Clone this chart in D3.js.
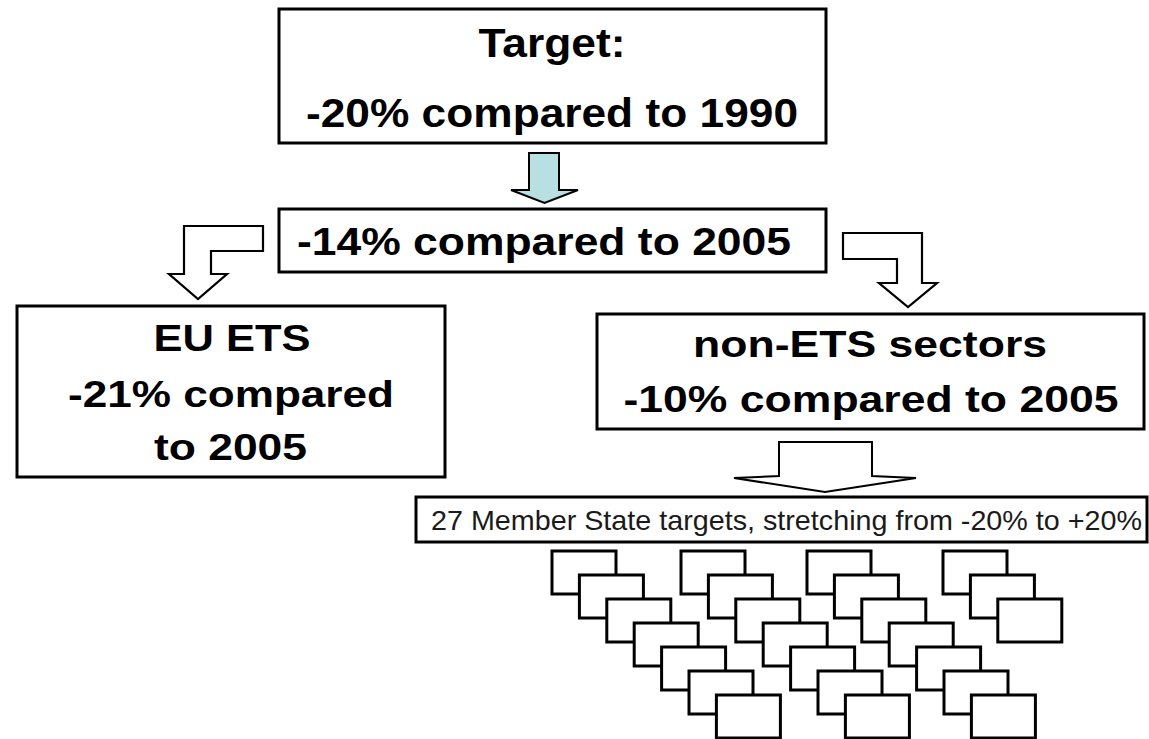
<!DOCTYPE html>
<html>
<head>
<meta charset="utf-8">
<script src="https://cdn.jsdelivr.net/npm/d3@7"></script>
<style>
  html, body { margin: 0; padding: 0; background: #fff; }
  svg { display: block; }
</style>
</head>
<body>
<svg id="chart" width="1149" height="739"></svg>
<script>
// ---- content (texts and counts) ----
const targetLines = ["Target:", "-20% compared to 1990"];
const totalLines = ["-14% compared to 2005"];
const etsLines = ["EU ETS", "-21% compared", "to 2005"];
const nonEtsLines = ["non-ETS sectors", "-10% compared to 2005"];
const memberLines = ["27 Member State targets, stretching from -20% to +20%"];
const memberGroupCounts = [7, 7, 7, 3];

// ---- layout ----
const svg = d3.select("#chart");
const FONT = "'Liberation Sans', Arial, Helvetica, sans-serif";

const boxLayout = [
  {x0: 279, y0: 9,   x1: 826,  y1: 143, lines: targetLines,
   text: [{cx: 552, y: 57, w: 147, fs: 41}, {cx: 552, y: 127, w: 492, fs: 41}], bold: true},
  {x0: 279, y0: 209, x1: 826,  y1: 272, lines: totalLines,
   text: [{cx: 544, y: 255, w: 494, fs: 39}], bold: true},
  {x0: 17,  y0: 306, x1: 445,  y1: 477, lines: etsLines,
   text: [{cx: 232, y: 351, w: 157, fs: 37}, {cx: 231, y: 407, w: 326, fs: 37}, {cx: 230.5, y: 460, w: 153, fs: 37}], bold: true},
  {x0: 597, y0: 314, x1: 1144, y1: 429, lines: nonEtsLines,
   text: [{cx: 870, y: 357, w: 354, fs: 37}, {cx: 871, y: 412, w: 495, fs: 37}], bold: true},
  {x0: 416, y0: 497, x1: 1147, y1: 542, lines: memberLines,
   text: [{cx: 786.5, y: 530, w: 711, fs: 28}], bold: false}
];

// Arrows
const arrows = [
  {fill: "#b8e0e2", sw: 2, pts: [[529,153],[559,153],[559,190],[578,190],[544.5,203],[511,190],[529,190]]},
  {fill: "#fff", sw: 2.2, pts: [[263,226],[184,226],[184,274],[169,274],[198,299],[227,274],[211,274],[211,251],[263,251]]},
  {fill: "#fff", sw: 2.2, pts: [[843,233],[922,233],[922,283],[937,283],[908,307],[879,283],[897,283],[897,259],[843,259]]},
  {fill: "#fff", sw: 2, pts: [[779,442],[872,442],[872,476],[916,478],[825,492],[734,478],[779,476]]}
];

const line = d3.line().curve(d3.curveLinearClosed);
svg.selectAll("path.arrow").data(arrows).join("path")
  .attr("class", "arrow")
  .attr("d", d => line(d.pts))
  .attr("fill", d => d.fill)
  .attr("stroke", "#000")
  .attr("stroke-width", d => d.sw)
  .attr("stroke-linejoin", "miter");

// Boxes
const boxG = svg.selectAll("g.box").data(boxLayout).join("g").attr("class", "box");
boxG.append("rect")
  .attr("x", d => d.x0).attr("y", d => d.y0)
  .attr("width", d => d.x1 - d.x0).attr("height", d => d.y1 - d.y0)
  .attr("fill", "#fff").attr("stroke", "#000").attr("stroke-width", 3);

boxG.each(function(b) {
  d3.select(this).selectAll("text").data(b.lines.map((t, i) => ({t, p: b.text[i], bold: b.bold})))
    .join("text")
    .attr("x", d => d.p.cx)
    .attr("y", d => d.p.y)
    .attr("text-anchor", "middle")
    .attr("font-family", FONT)
    .attr("font-weight", d => d.bold ? "bold" : "normal")
    .attr("font-size", d => d.p.fs)
    .attr("textLength", d => d.p.w)
    .attr("lengthAdjust", "spacingAndGlyphs")
    .attr("fill", d => d.bold ? "#000" : "#1a1a1a")
    .text(d => d.t);
});

// Member-state target cards
const groupX = d3.scaleOrdinal().domain(d3.range(memberGroupCounts.length)).range([552, 681, 807, 943]);
const stepX = d3.scaleLinear().domain([0, 1]).range([0, 27.4]);
const stepY = d3.scaleLinear().domain([0, 1]).range([551, 575]);
const cards = [];
memberGroupCounts.forEach((n, g) => { for (let i = 0; i < n; i++) cards.push({g, i}); });

svg.selectAll("rect.card").data(cards).join("rect")
  .attr("class", "card")
  .attr("x", d => groupX(d.g) + stepX(d.i))
  .attr("y", d => stepY(d.i))
  .attr("width", 64).attr("height", 43)
  .attr("fill", "#fff").attr("stroke", "#000").attr("stroke-width", 3);
</script>
</body>
</html>
